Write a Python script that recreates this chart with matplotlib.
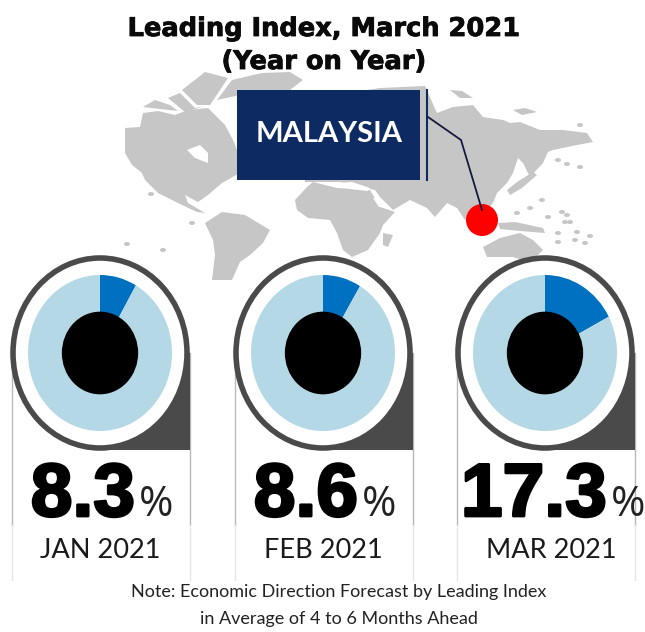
import matplotlib
matplotlib.use('Agg')
import matplotlib.pyplot as plt
import matplotlib.patheffects as pe
from matplotlib.patches import Ellipse, Polygon, Rectangle

# Chart values
months = ['JAN 2021', 'FEB 2021', 'MAR 2021']
values = [8.3, 8.6, 17.3]
title = 'Leading Index, March 2021\n(Year on Year)'
country = 'MALAYSIA'
note = ['Note: Economic Direction Forecast by Leading Index',
        'in Average of 4 to 6 Months Ahead']

W, H = 645, 632
centers_x = [100, 323, 545]
center_y = 353
number_right = [135, 358, 607]
month_x = [100, 323, 551]
grey = '#c6c6c6'

fig = plt.figure(figsize=(W / 100, H / 100), dpi=100)
ax = fig.add_axes([0, 0, 1, 1])
ax.set_xlim(0, W)
ax.set_ylim(H, 0)
ax.axis('off')

# World map backdrop, rough outlines in pixel coordinates
land = [
    # north america
    [(125, 128), (140, 127), (143, 113), (158, 111), (175, 115), (188, 110), (208, 108), (225, 125), (233, 140),
     (240, 157), (240, 173), (222, 183), (208, 195), (198, 202), (185, 195), (188, 203), (200, 210),
     (205, 213), (197, 212), (182, 205), (158, 193), (145, 180), (142, 173), (132, 165), (125, 153)],
    # arctic islands
    [(143, 107), (155, 100), (170, 105), (178, 111), (160, 109)],
    [(168, 98), (180, 93), (195, 108), (205, 106), (185, 112)],
    [(182, 90), (205, 72), (228, 78), (218, 93), (210, 105), (197, 105)],
    # greenland
    [(217, 100), (232, 80), (262, 73), (290, 72), (303, 80), (290, 90), (240, 95)],
    # south america
    [(205, 223), (222, 212), (245, 215), (270, 230), (263, 243), (250, 255), (240, 262), (232, 280),
     (212, 280), (215, 255), (213, 240)],
    # africa
    [(295, 200), (307, 187), (313, 182), (337, 188), (370, 190), (380, 207), (395, 212), (383, 225),
     (380, 233), (368, 250), (352, 257), (343, 250), (337, 233), (330, 220), (308, 218), (297, 210)],
    # eurasia
    [(305, 182), (300, 100), (380, 88), (425, 86), (437, 113), (453, 107), (473, 105), (483, 117),
     (503, 120), (510, 123), (520, 122), (540, 130), (563, 130), (587, 133), (593, 142),
     (577, 145), (553, 150), (548, 152), (543, 163), (530, 177), (523, 163), (518, 158), (513, 173),
     (507, 183), (497, 193), (493, 203), (482, 215), (465, 220), (457, 208), (447, 203),
     (435, 217), (427, 208), (410, 200), (393, 210), (380, 197), (375, 190), (340, 182)],
    # australia
    [(483, 247), (500, 238), (520, 233), (533, 240), (543, 250), (530, 263), (513, 257), (487, 257)],
    # japan
    [(507, 190), (517, 182), (533, 172), (537, 175), (522, 188), (510, 195)],
    # indonesia and new guinea
    [(498, 223), (515, 222), (543, 228), (545, 233), (520, 231), (500, 229)],
    # madagascar
    [(383, 233), (393, 235), (388, 247), (383, 245)],
    # svalbard and novaya zemlya
    [(450, 90), (462, 91), (473, 98), (460, 98)],
    [(513, 110), (525, 108), (537, 112), (522, 115)],
]
for shape in land:
    ax.add_patch(Polygon(shape, closed=True, facecolor=grey, edgecolor='none', zorder=1))

# small islands
islands = [(580, 125), (542, 200), (530, 208), (517, 213), (548, 217), (562, 212), (567, 215),
           (565, 222), (570, 222), (558, 233), (558, 242), (577, 232), (590, 236), (575, 240),
           (585, 243), (558, 160), (567, 164), (580, 167), (192, 223), (127, 244), (163, 250),
           (151, 194)]
for ix, iy in islands:
    ax.add_patch(Ellipse((ix, iy), 6, 4, facecolor=grey, edgecolor='none', zorder=1))

# water cut out of the land
water = [
    [(187, 150), (200, 145), (208, 153), (208, 163), (195, 158)],  # hudson bay
    [(338, 183), (352, 182), (370, 188), (368, 191), (350, 189)],  # mediterranean
    [(373, 198), (375, 198), (381, 207), (379, 207)],  # red sea
]
for shape in water:
    ax.add_patch(Polygon(shape, closed=True, facecolor='white', edgecolor='none', zorder=2))

# Country label and leader line
ax.add_patch(Rectangle((237, 90), 183, 90, facecolor='#0d2a63', edgecolor='none', zorder=3))
ax.plot([427, 427], [90, 180], color='#0d2a63', lw=1.5, zorder=3)
ax.add_patch(Ellipse((482, 220), 32, 32, facecolor='#ff0000', edgecolor='none', zorder=3.5))
ax.plot([428, 461, 482], [117, 140, 210], color='#15193f', lw=1.3, zorder=4)
ax.text(329, 134, country, color='white', ha='center', va='center', fontsize=21,
        fontfamily='Lato', fontweight='bold', zorder=5)

title_text = ax.text(324, 45.5, title, ha='center', va='center', fontsize=18.5, fontweight='bold',
                     fontfamily='DejaVu Sans', color='#0a0a0a', linespacing=1.35, zorder=6)
title_text.set_path_effects([pe.withStroke(linewidth=0.6, foreground='#0a0a0a')])

for i, cx in enumerate(centers_x):
    # panel side lines
    ax.plot([cx - 88, cx - 88], [center_y, 525], color='#b8b8b8', lw=1, zorder=2)
    ax.plot([cx + 90, cx + 90], [center_y, 525], color='#b8b8b8', lw=1, zorder=2)
    ax.plot([cx - 88, cx - 88], [525, 580], color='#e6e6e6', lw=1, zorder=2)
    ax.plot([cx + 90, cx + 90], [525, 580], color='#e6e6e6', lw=1, zorder=2)

    # dark corner and outer ring
    ax.add_patch(Rectangle((cx, center_y), 90, 97, facecolor='#4a4a4a', edgecolor='none', zorder=6))
    ax.add_patch(Ellipse((cx, center_y), 174, 190, facecolor='white', edgecolor='#4a4a4a',
                         lw=4, zorder=7))

    # donut
    pie_ax = fig.add_axes([(cx - 72) / W, 1 - (center_y + 78) / H, 144 / W, 156 / H])
    pie_ax.pie([values[i], 100 - values[i]], colors=['#0070c0', '#b5d8e6'], startangle=90,
               counterclock=False, radius=1)
    pie_ax.add_patch(Ellipse((0, 0), 1.06, 1.06, facecolor='black', edgecolor='none', zorder=5))
    pie_ax.set_aspect('auto')
    pie_ax.set_xlim(-1, 1)
    pie_ax.set_ylim(-1, 1)

    # number, percent sign, month
    val_text = '%.1f' % values[i]
    big = ax.text(number_right[i], 516, val_text, ha='right', va='baseline', fontsize=54,
                  fontfamily='Liberation Sans', fontweight='bold', color='black', zorder=8)
    big.set_path_effects([pe.withStroke(linewidth=2, foreground='black')])
    ax.text(number_right[i] + 4, 516, '%', ha='left', va='baseline', fontsize=30,
            fontfamily='Open Sans', color='#222222', zorder=8)
    ax.text(month_x[i], 558, months[i], ha='center', va='baseline', fontsize=19.5, fontfamily='Lato',
            color='#1a1a1a', zorder=8)

for line, y in zip(note, [592, 619]):
    ax.text(339, y, line, ha='center', va='center', fontsize=13, fontfamily='Lato',
            color='#222222', zorder=8)

fig.savefig('out.png', dpi=100, facecolor='white')
